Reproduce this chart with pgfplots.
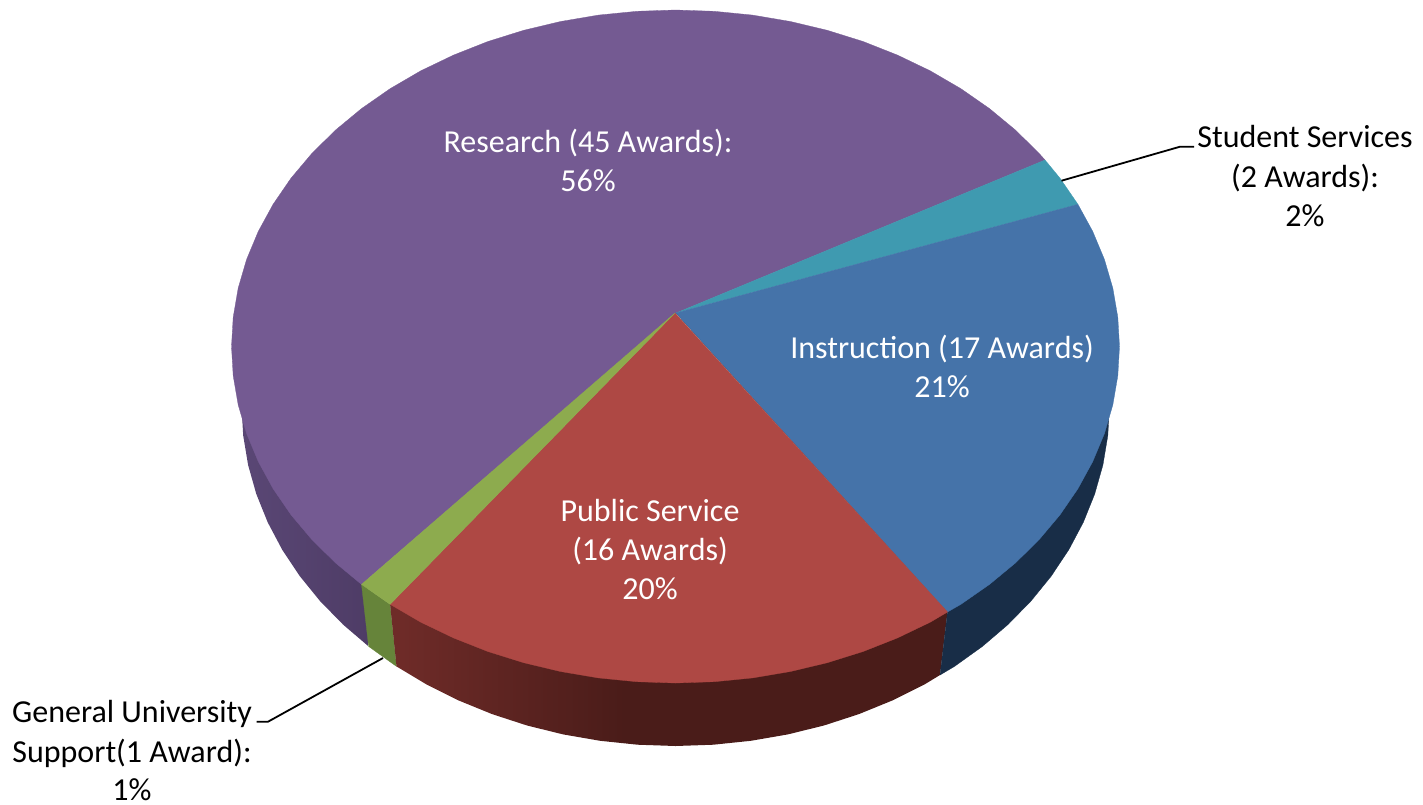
\documentclass[border=0pt]{standalone}
\usepackage{fontspec}
\setmainfont{Carlito}
\usepackage{pgfplots}
\pgfplotsset{compat=1.18}
\definecolor{cPurple}{HTML}{745A92}
\definecolor{cTeal}{HTML}{3F9AB0}
\definecolor{cBlue}{HTML}{4573A9}
\definecolor{cRed}{HTML}{AE4844}
\definecolor{cGreen}{HTML}{8DAB4E}
\definecolor{wPurpleL}{HTML}{5A4775}
\definecolor{wPurpleR}{HTML}{4E3C66}
\definecolor{wGreen}{HTML}{66843A}
\definecolor{wBlue}{HTML}{182D47}
\definecolor{wRedL}{HTML}{6E2B28}
\definecolor{wRedR}{HTML}{4A1C19}
\pgfdeclarehorizontalshading{redwall}{100bp}{color(0bp)=(wRedL); color(26bp)=(wRedL); color(46bp)=(wRedR); color(100bp)=(wRedR)}
\newcommand{\lab}[4]{\node[anchor=base,text=#4,inner sep=0pt,font=\fontsize{32}{40}\selectfont] at (axis cs:#1,#2) {#3};}
\begin{document}
\begin{tikzpicture}
\begin{axis}[
  scale only axis, width=1423pt, height=804pt,
  xmin=0, xmax=1423, ymin=0, ymax=804, y dir=reverse,
  hide axis, clip=false]
\path (rel axis cs:0,0) rectangle (rel axis cs:1,1);
% side walls
\addplot[draw=none,shading=axis,left color=wPurpleL,right color=wPurpleR] coordinates {(368.6,500)(241.5,406)(243.2,435.6)(248.1,465)(256.3,494)(267.7,522.3)(282.2,549.7)(299.7,576)(320,601)(343.1,624.6)(368.6,646.4)} --cycle;
\addplot[draw=wGreen,line width=0.3pt,fill=wGreen] coordinates {(361.5,584.4)(368.6,646.4)(396.5,666.4)(390.1,604.3)} --cycle;
\addplot[draw=none,shading=redwall] coordinates {(390.1,604.3)(396.5,666.4)(426.6,684.5)(458.5,700.4)(492.1,714.1)(527.1,725.5)(563.2,734.4)(600.2,740.8)(637.7,744.7)(675.5,746)(713.3,744.7)(750.8,740.8)(787.8,734.4)(823.9,725.5)(858.9,714.1)(892.5,700.4)(924.4,684.5)(940,675)(947.5,612)} --cycle;
\addplot[draw=wBlue,line width=0.3pt,fill=wBlue] coordinates {(947.5,612)(940,675)(954.5,666.4)(982.4,646.4)(1007.9,624.6)(1031,601)(1051.3,576)(1068.8,549.7)(1083.3,522.3)(1094.7,494)(1102.9,465)(1107.8,435.6)(1109.5,406)(676,313)} --cycle;
% top faces
\addplot[draw=cPurple,line width=0.3pt,fill=cPurple] coordinates {(676,313)(361.5,584.4)(335.4,562.8)(311.8,539.5)(291,514.8)(273.1,488.7)(258.3,461.6)(246.6,433.6)(238.2,404.9)(233.2,375.8)(231.5,346.5)(233.2,317.2)(238.2,288.1)(246.6,259.4)(258.3,231.4)(273.1,204.3)(291,178.2)(311.8,153.5)(335.4,130.2)(361.5,108.6)(390.1,88.7)(420.8,70.8)(453.5,55.1)(487.9,41.5)(523.7,30.3)(560.6,21.5)(598.4,15.1)(636.8,11.3)(675.5,10)(714.2,11.3)(752.6,15.1)(790.4,21.5)(827.3,30.3)(863.1,41.5)(897.5,55.1)(930.2,70.8)(960.9,88.7)(989.5,108.6)(1015.6,130.2)(1039.2,153.5)(1045,160)} --cycle;
\addplot[draw=cTeal,line width=0.3pt,fill=cTeal] coordinates {(676,313)(1045,160)(1060,178.2)(1077.9,204.3)} --cycle;
\addplot[draw=cBlue,line width=0.3pt,fill=cBlue] coordinates {(676,313)(1077.9,204.3)(1092.7,231.4)(1104.4,259.4)(1112.8,288.1)(1117.8,317.2)(1119.5,346.5)(1117.8,375.8)(1112.8,404.9)(1104.4,433.6)(1092.7,461.6)(1077.9,488.7)(1060,514.8)(1039.2,539.5)(1015.6,562.8)(989.5,584.4)(960.9,604.3)(947.5,612)} --cycle;
\addplot[draw=cRed,line width=0.3pt,fill=cRed] coordinates {(675,313)(947.5,612)(930.2,622.2)(897.5,637.9)(863.1,651.5)(827.3,662.7)(790.4,671.5)(752.6,677.9)(714.2,681.7)(675.5,683)(636.8,681.7)(598.4,677.9)(560.6,671.5)(523.7,662.7)(487.9,651.5)(453.5,637.9)(420.8,622.2)(390.1,604.3)} --cycle;
\addplot[draw=cGreen,line width=0.3pt,fill=cGreen] coordinates {(675,313)(390.1,604.3)(361.5,584.4)} --cycle;
% leader lines
\addplot[black,line width=1.8pt] coordinates {(1061.5,180.7)(1180,146.7)(1194,146.7)};
\addplot[black,line width=1.8pt] coordinates {(383,658)(268,721.7)(256.5,721.7)};
% labels
\lab{588}{152}{Research (45 Awards):}{white}
\lab{588}{191}{56\%}{white}
\lab{942}{358}{Instruction (17 Awards)}{white}
\lab{942}{397}{21\%}{white}
\lab{650}{521}{Public Service}{white}
\lab{650}{560}{(16 Awards)}{white}
\lab{650}{599}{20\%}{white}
\lab{1305}{147}{Student Services}{black}
\lab{1305}{187}{(2 Awards):}{black}
\lab{1305}{226}{2\%}{black}
\lab{132}{722}{General University}{black}
\lab{132}{762}{Support(1 Award):}{black}
\lab{132}{800}{1\%}{black}
\end{axis}
\end{tikzpicture}
\end{document}
